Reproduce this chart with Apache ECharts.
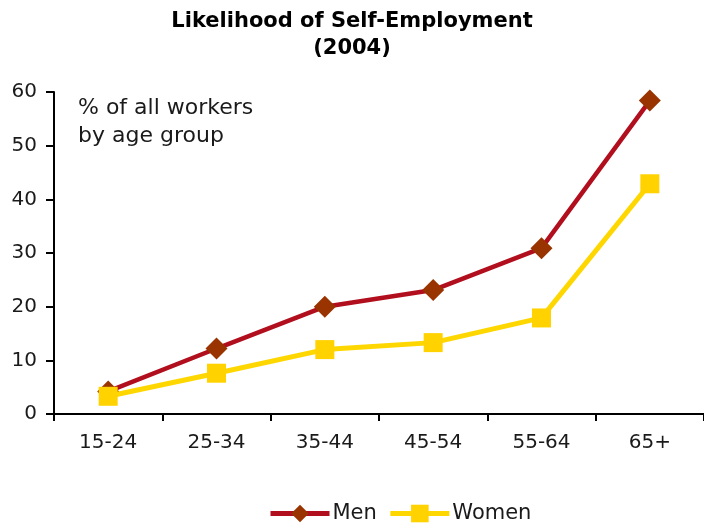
<!DOCTYPE html>
<html>
<head>
<meta charset="utf-8">
<script src="https://cdn.jsdelivr.net/npm/echarts@6/dist/echarts.min.js"></script>
<style>
  html, body { margin: 0; padding: 0; background: #fff; }
  #chart { width: 704px; height: 525px; }
</style>
</head>
<body>
<div id="chart"></div>
<script>
// Age groups on the category axis
const ageGroups = ['15-24', '25-34', '35-44', '45-54', '55-64', '65+'];
// Share of all workers who are self-employed, by age group (%)
const menValues = [4.2, 12.2, 20.0, 23.1, 30.9, 58.4];
const womenValues = [3.3, 7.6, 12.0, 13.3, 17.9, 42.9];
// Value axis ticks
const yTicks = [0, 10, 20, 30, 40, 50, 60];

const font = 'DejaVu Sans, Verdana, sans-serif';
const chart = echarts.init(document.getElementById('chart'));

chart.setOption({
  animation: false,
  backgroundColor: '#ffffff',
  title: {
    text: 'Likelihood of Self-Employment\n(2004)',
    left: 'center',
    top: 3,
    textStyle: {
      fontFamily: font,
      fontWeight: 'bold',
      fontSize: 21,
      lineHeight: 27,
      color: '#000'
    }
  },
  graphic: [{
    type: 'text',
    left: 78,
    top: 94,
    style: {
      text: '% of all workers\nby age group',
      font: '22px ' + font,
      lineHeight: 28,
      fill: '#1a1a1a'
    }
  }],
  legend: {
    bottom: 1,
    left: 268,
    padding: 0,
    itemWidth: 59,
    itemHeight: 22,
    itemGap: 11,
    lineStyle: { width: 5 },
    textStyle: { fontFamily: font, fontSize: 21, color: '#1a1a1a', padding: [0, 0, 0, -2] },
    data: ['Men', 'Women']
  },
  grid: { left: 54, right: -4, top: 92, bottom: 111 },
  xAxis: {
    type: 'category',
    data: ageGroups,
    boundaryGap: true,
    axisLine: { lineStyle: { color: '#000', width: 2 } },
    axisTick: { show: true, length: 7, lineStyle: { color: '#000', width: 2 } },
    axisLabel: { fontFamily: font, fontSize: 20, color: '#1a1a1a', margin: 19 }
  },
  yAxis: {
    type: 'value',
    min: yTicks[0],
    max: yTicks[yTicks.length - 1],
    interval: 10,
    splitLine: { show: false },
    axisLine: { show: true, lineStyle: { color: '#000', width: 2 } },
    axisTick: { show: true, length: 8, lineStyle: { color: '#000', width: 2 } },
    axisLabel: { fontFamily: font, fontSize: 20, color: '#1a1a1a', margin: 17 }
  },
  series: [
    {
      name: 'Men',
      type: 'line',
      data: menValues,
      symbol: 'diamond',
      symbolSize: 22,
      lineStyle: { color: '#B20F1E', width: 4.5 },
      itemStyle: { color: '#993300' },
      z: 3
    },
    {
      name: 'Women',
      type: 'line',
      data: womenValues,
      symbol: 'rect',
      symbolSize: 19,
      lineStyle: { color: '#FFD700', width: 5 },
      itemStyle: { color: '#FFD200' },
      z: 4
    }
  ]
});
</script>
</body>
</html>
